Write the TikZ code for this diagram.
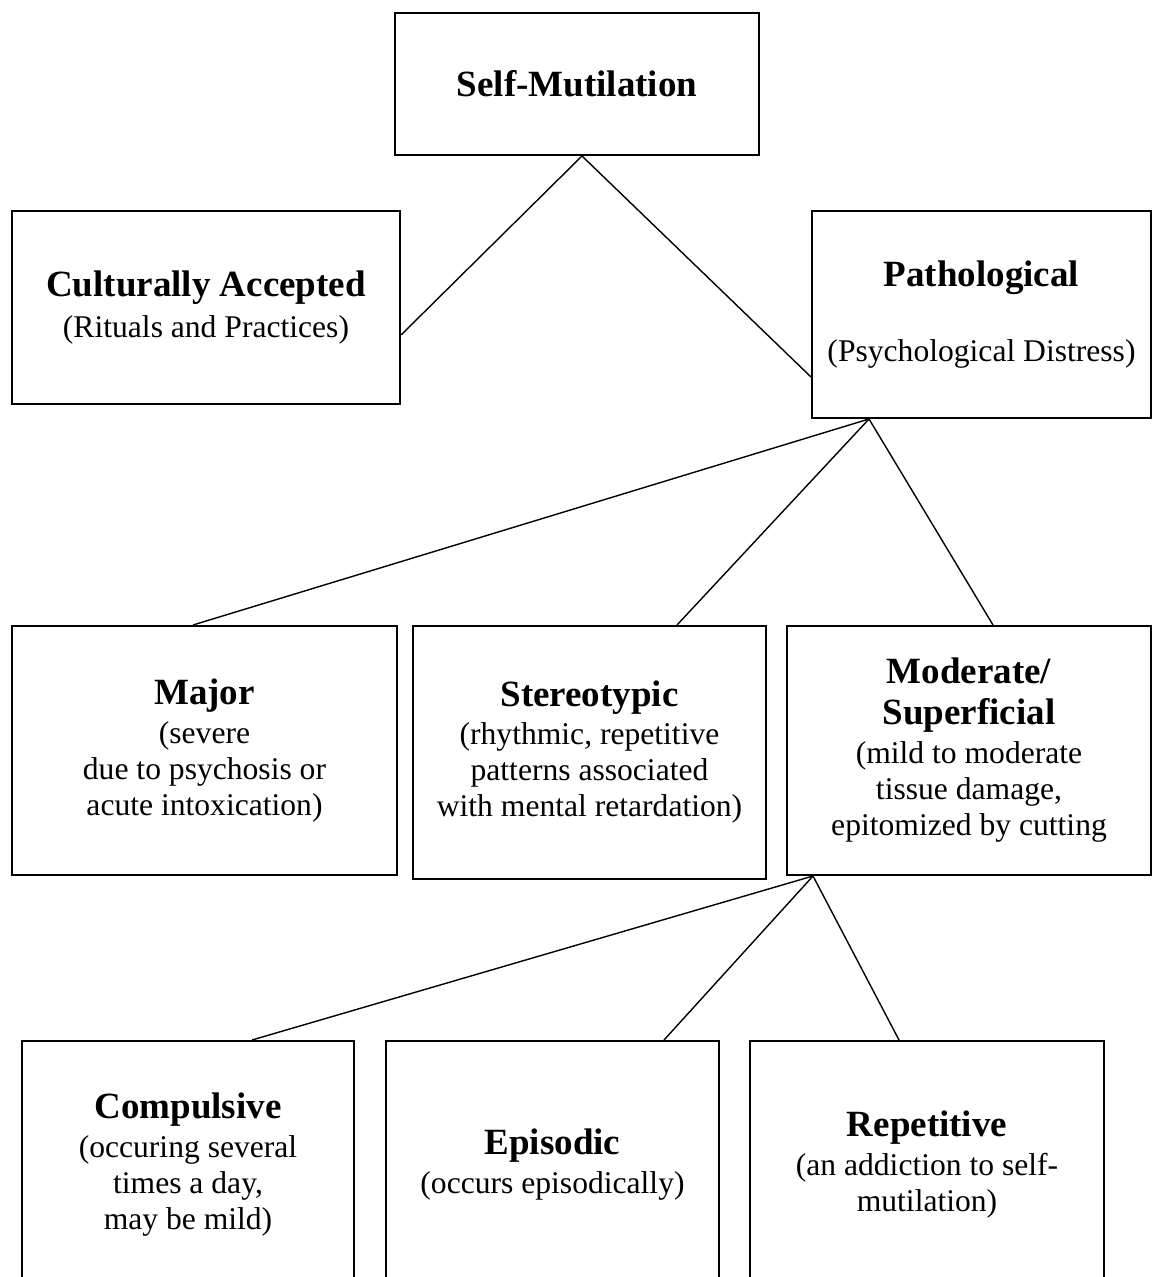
\documentclass[tikz,border=0pt]{standalone}
\usepackage{fontspec}
\setmainfont{Liberation Serif}
\usetikzlibrary{positioning}

\newcommand{\hd}[1]{{\fontsize{18.5}{20}\selectfont\bfseries #1}}

\begin{document}
\begin{tikzpicture}[
    x=0.5pt, y=-0.5pt,
    box/.style={draw, rectangle, line width=1pt, inner sep=0pt,
                align=center, font=\fontsize{15.8}{18}\selectfont},
    link/.style={line width=0.7pt},
    node distance=15pt
]
\useasboundingbox (0,0) rectangle (1154,1277);
\clip (0,0) rectangle (1154,1277);

\node[box, minimum width=182pt, minimum height=71pt] (sm) at (577,84)
  {\hd{Self-Mutilation}};
\node[box, minimum width=194pt, minimum height=96.5pt] (cult) at (206,307.5)
  {\hd{Culturally Accepted}\\[2.5pt] (Rituals and Practices)};
\node[box, minimum width=169.5pt, minimum height=103.5pt] (patho) at (981.5,314.5)
  {\hd{Pathological}\\[19.5pt] (Psychological Distress)};

\node[box, minimum width=192.5pt, minimum height=124.5pt] (major) at (204.5,750.5)
  {\hd{Major}\\[1.5pt] (severe\\ due to psychosis or\\ acute intoxication)};
\node[box, minimum width=176.5pt, minimum height=126.5pt] (stereo) at (589.5,752.5)
  {\hd{Stereotypic}\\[1pt] (rhythmic, repetitive\\ patterns associated\\ with mental retardation)};
\node[box, minimum width=182pt, minimum height=124.5pt] (mod) at (969,750.5)
  {\hd{Moderate/}\\[2.5pt] \hd{Superficial}\\[1.5pt] (mild to moderate\\ tissue damage,\\ epitomized by cutting};

\node[box, minimum width=166pt, minimum height=124pt] (comp) at (188,1165)
  {\hd{Compulsive}\\[1.5pt] (occuring several\\ times a day,\\ may be mild)};
\node[box, minimum width=166.5pt, minimum height=124pt, right=15pt of comp] (epis)
  {\hd{Episodic}\\[1.5pt] (occurs episodically)};
\node[box, minimum width=177pt, minimum height=124pt, right=14.5pt of epis] (rep)
  {\hd{Repetitive}\\[1.5pt] (an addiction to self-\\ mutilation)};

% top level
\draw[link] ([xshift=2.5pt]sm.south) -- ([yshift=-13.75pt]cult.east);
\draw[link] ([xshift=2.5pt]sm.south) -- ([yshift=-31.25pt]patho.west);

% pathological kinds
\draw[link] ([xshift=-56.25pt]patho.south) -- ([xshift=-5.75pt]major.north);
\draw[link] ([xshift=-56.25pt]patho.south) -- ([xshift=43.75pt]stereo.north);
\draw[link] ([xshift=-56.25pt]patho.south) -- ([xshift=12pt]mod.north);

% moderate kinds
\draw[link] ([xshift=-78pt]mod.south) -- ([xshift=32pt]comp.north);
\draw[link] ([xshift=-78pt]mod.south) -- ([xshift=55.75pt]epis.north);
\draw[link] ([xshift=-78pt]mod.south) -- ([xshift=-14pt]rep.north);
\end{tikzpicture}
\end{document}
